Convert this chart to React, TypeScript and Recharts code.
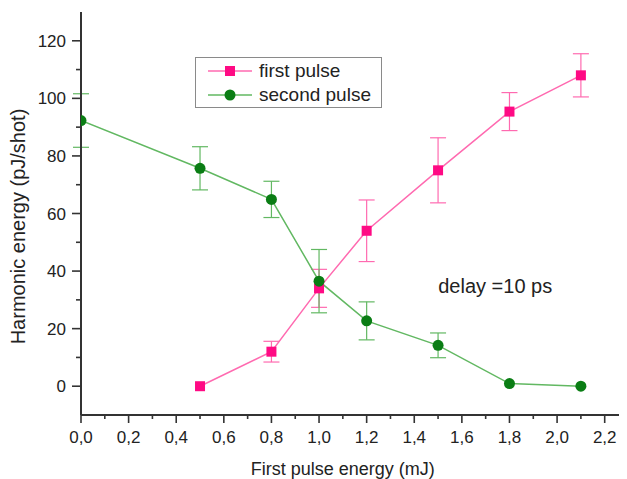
import { LineChart, Line, XAxis, YAxis, ErrorBar, Legend, ReferenceDot } from 'recharts';

const FONT = '"Liberation Sans", Arial, sans-serif';
const AXIS = '#333';
const PINK = '#ff0a84';
const PINK_LINE = '#ff6ab0';
const GREEN = '#0a7d14';
const GREEN_LINE = '#62b862';

// first pulse (pink squares)
const firstX = [0.5, 0.8, 1.0, 1.2, 1.5, 1.8, 2.1];
const firstY = [0, 12, 34, 54, 75, 95.4, 108];
const firstErr = [0, 3.6, 6.6, 10.7, 11.3, 6.6, 7.5];

// second pulse (green circles)
const secondX = [0, 0.5, 0.8, 1.0, 1.2, 1.5, 1.8, 2.1];
const secondY = [92.3, 75.7, 64.9, 36.5, 22.7, 14.2, 0.9, 0];
const secondErr = [9.3, 7.5, 6.3, 11, 6.6, 4.3, 0, 0];

const xTicks = [0, 0.1, 0.2, 0.3, 0.4, 0.5, 0.6, 0.7, 0.8, 0.9, 1.0, 1.1, 1.2, 1.3, 1.4, 1.5, 1.6, 1.7, 1.8, 1.9, 2.0, 2.1, 2.2];
const xMajor = [0, 0.2, 0.4, 0.6, 0.8, 1.0, 1.2, 1.4, 1.6, 1.8, 2.0, 2.2];
const yTicks = [0, 10, 20, 30, 40, 50, 60, 70, 80, 90, 100, 110, 120];
const yMajor = [0, 20, 40, 60, 80, 100, 120];
const frameTicks = [0.5, 1, 1.5, 2, 2.5, 3, 3.5, 4, 4.5];
const frameMajor = [1, 2, 3, 4];

const firstData = firstX.map((x, i) => ({ x, y: firstY[i], err: firstErr[i] }));
const secondData = secondX.map((x, i) => ({ x, y: secondY[i], err: secondErr[i] }));

const BottomTick = (props: any) => {
    const { x, y, payload } = props;
    const major = xMajor.includes(payload.value);
    return (
        <g>
            <line x1={x} y1={y} x2={x} y2={y + (major ? 8 : 4)} stroke={AXIS} strokeWidth={1.6} />
            {major && (
                <text x={x} y={y + 28} textAnchor="middle" fontSize={17} fontFamily={FONT} fill="#222">
                    {payload.value.toFixed(1).replace('.', ',')}
                </text>
            )}
        </g>
    );
};

const LeftTick = (props: any) => {
    const { x, y, payload } = props;
    const major = yMajor.includes(payload.value);
    return (
        <g>
            <line x1={x - (major ? 9 : 5)} y1={y} x2={x} y2={y} stroke={AXIS} strokeWidth={1.6} />
            {major && (
                <text x={x - 15} y={y + 6} textAnchor="end" fontSize={17} fontFamily={FONT} fill="#222">
                    {payload.value}
                </text>
            )}
        </g>
    );
};

const TopTick = (props: any) => {
    const { x, y, payload } = props;
    const major = frameMajor.includes(payload.value);
    return <line x1={x} y1={y} x2={x} y2={y + (major ? 7 : 4)} stroke={AXIS} strokeWidth={1.6} />;
};

const RightTick = (props: any) => {
    const { x, y, payload } = props;
    const major = frameMajor.includes(payload.value);
    return <line x1={x - (major ? 8 : 4)} y1={y} x2={x} y2={y} stroke={AXIS} strokeWidth={1.6} />;
};

const SquareDot = (props: any) => {
    const { cx, cy, index } = props;
    return <rect key={`sq-${index}`} x={cx - 5} y={cy - 5} width={10} height={10} fill={PINK} />;
};

const legendItems = [
    { name: 'first pulse', line: PINK_LINE, mark: PINK, square: true },
    { name: 'second pulse', line: GREEN_LINE, mark: GREEN, square: false },
];

const LegendBox = () => (
    <div
        style={{
            boxSizing: 'border-box',
            border: '1px solid #8a8a8a',
            width: 187,
            height: 51,
            paddingTop: 1,
            fontFamily: FONT,
            fontSize: 19,
            color: '#222',
            background: '#fff',
            whiteSpace: 'nowrap',
        }}
    >
        {legendItems.map((it) => (
            <div key={it.name} style={{ display: 'flex', alignItems: 'center', height: 24 }}>
                <svg width={46} height={24} style={{ marginLeft: 12, flex: 'none' }}>
                    <line x1={0} y1={12} x2={44} y2={12} stroke={it.line} strokeWidth={1.5} />
                    {it.square ? (
                        <rect x={17} y={7} width={10} height={10} fill={it.mark} />
                    ) : (
                        <circle cx={22} cy={12} r={5.5} fill={it.mark} />
                    )}
                </svg>
                <span style={{ marginLeft: 5, lineHeight: '24px' }}>{it.name}</span>
            </div>
        ))}
    </div>
);

export default function App() {
    return (
        <div style={{ width: 619, height: 471, overflow: 'hidden' }}>
            <LineChart width={640} height={471} margin={{ top: 4, right: 19.5, bottom: 0, left: 0 }}>
                <XAxis
                    dataKey="x"
                    type="number"
                    domain={[0, 2.3]}
                    ticks={xTicks}
                    allowDataOverflow
                    height={64}
                    stroke={AXIS}
                    strokeWidth={2}
                    tickLine={false}
                    tickSize={0}
                    tickMargin={0}
                    interval={0}
                    tick={<BottomTick />}
                    label={{
                        content: (p: any) => {
                            const vb = p.viewBox;
                            return (
                                <text x={vb.x + vb.width / 2 - 12} y={vb.y + 60} textAnchor="middle" fontSize={18} fontFamily={FONT} fill="#222">
                                    First pulse energy (mJ)
                                </text>
                            );
                        },
                    }}
                />
                <XAxis
                    xAxisId="top"
                    orientation="top"
                    type="number"
                    domain={[0, 5]}
                    ticks={frameTicks}
                    allowDataOverflow
                    height={0}
                    stroke={AXIS}
                    strokeWidth={2}
                    tickLine={false}
                    tickSize={0}
                    tickMargin={0}
                    interval={0}
                    tick={<TopTick />}
                />
                <YAxis
                    type="number"
                    domain={[-10, 130]}
                    ticks={yTicks}
                    allowDataOverflow
                    width={73}
                    stroke={AXIS}
                    strokeWidth={2}
                    tickLine={false}
                    tickSize={0}
                    tickMargin={0}
                    interval={0}
                    tick={<LeftTick />}
                    label={{
                        content: (p: any) => {
                            const vb = p.viewBox;
                            const cx = vb.x + 17;
                            const cy = vb.y + vb.height / 2 + 13;
                            return (
                                <text x={cx} y={cy} transform={`rotate(-90 ${cx} ${cy})`} textAnchor="middle" fontSize={20} fontFamily={FONT} fill="#222">
                                    Harmonic energy (pJ/shot)
                                </text>
                            );
                        },
                    }}
                />
                <YAxis
                    yAxisId="right"
                    orientation="right"
                    type="number"
                    domain={[0, 5]}
                    ticks={frameTicks}
                    allowDataOverflow
                    width={0}
                    stroke={AXIS}
                    strokeWidth={2}
                    tickLine={false}
                    tickSize={0}
                    tickMargin={0}
                    interval={0}
                    tick={<RightTick />}
                />
                <Legend
                    layout="vertical"
                    align="center"
                    verticalAlign="middle"
                    wrapperStyle={{ left: 187, top: 49, width: 187 }}
                    content={<LegendBox />}
                />
                <ReferenceDot
                    x={1.74}
                    y={35}
                    r={0}
                    label={{ value: 'delay =10 ps', position: 'center', fontSize: 20, fontFamily: FONT, fill: '#222' }}
                />
                <Line
                    data={firstData}
                    dataKey="y"
                    name="first pulse"
                    type="linear"
                    stroke={PINK_LINE}
                    strokeWidth={1.5}
                    dot={<SquareDot />}
                    activeDot={false}
                    isAnimationActive={false}
                >
                    <ErrorBar dataKey="err" direction="y" width={8} stroke={PINK_LINE} strokeWidth={1.2} />
                </Line>
                <Line
                    data={secondData}
                    dataKey="y"
                    name="second pulse"
                    type="linear"
                    stroke={GREEN_LINE}
                    strokeWidth={1.5}
                    dot={{ r: 5.5, fill: GREEN, stroke: GREEN, strokeWidth: 0, clipDot: true }}
                    activeDot={false}
                    isAnimationActive={false}
                >
                    <ErrorBar dataKey="err" direction="y" width={8} stroke={GREEN_LINE} strokeWidth={1.2} />
                </Line>
            </LineChart>
        </div>
    );
}
